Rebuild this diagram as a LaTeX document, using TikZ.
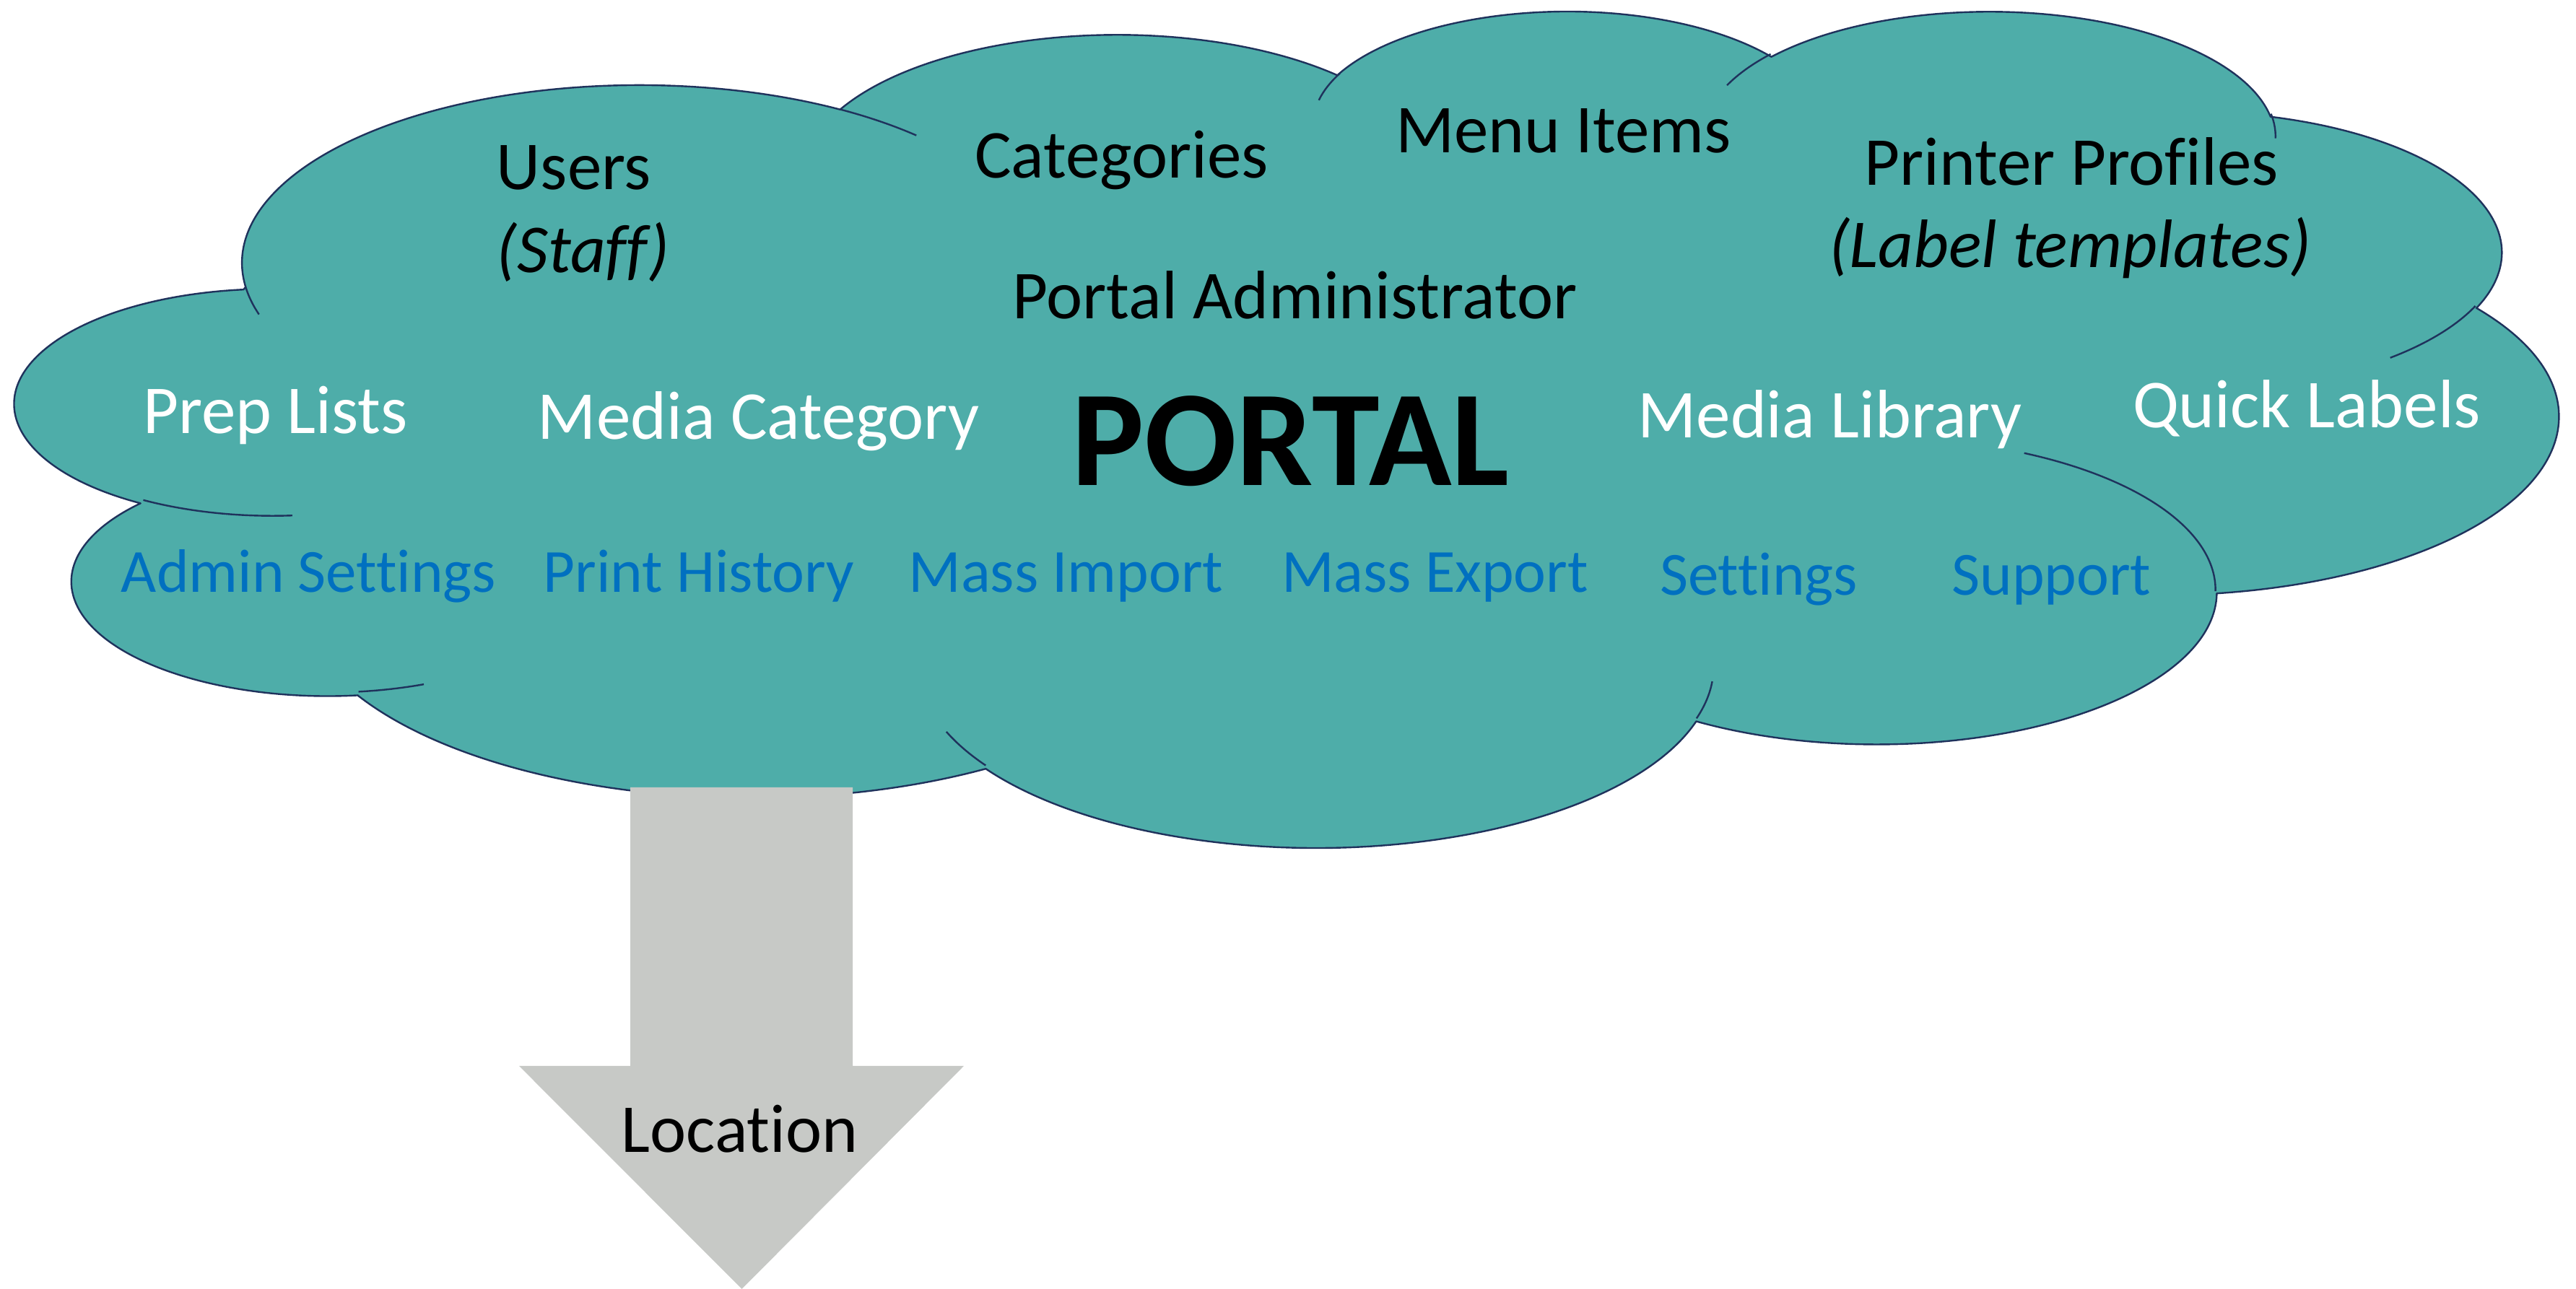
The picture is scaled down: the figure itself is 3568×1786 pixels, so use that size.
\documentclass[tikz,border=0pt]{standalone}
\usepackage{fontspec}
\setmainfont{Carlito}[Ligatures={NoCommon}]
\definecolor{cloudfill}{RGB}{78,173,169}
\definecolor{cloudline}{RGB}{31,50,92}
\definecolor{linkblue}{RGB}{0,112,192}
\definecolor{arrowgray}{RGB}{199,201,198}

% DrawingML arcTo (visual angles) -> TikZ elliptical arc (parametric angles)
\newcommand\defcloudarc[5]{%
  \pgfmathsetmacro\clk{#2/#3}%
  \pgfmathsetmacro\cla{#4}%
  \pgfmathsetmacro\clta{\cla+atan((\clk-1)*sin(\cla)*cos(\cla)/(cos(\cla)*cos(\cla)+\clk*sin(\cla)*sin(\cla)))}%
  \pgfmathsetmacro\clb{#4+#5}%
  \pgfmathsetmacro\cltb{\clb+atan((\clk-1)*sin(\clb)*cos(\clb)/(cos(\clb)*cos(\clb)+\clk*sin(\clb)*sin(\clb)))}%
  \pgfmathsetmacro\clrx{#2/432}%
  \pgfmathsetmacro\clry{#3/432}%
  \edef\cltemp{\noexpand\tikzset{#1/.style={start angle=\clta,end angle=\cltb,x radius=\clrx,y radius=\clry}}}%
  \cltemp}

\defcloudarc{clA}{6753}{9190}{-190.487483}{123.780533}
\defcloudarc{clB}{5333}{7267}{-144.102383}{89.945233}
\defcloudarc{clC}{4365}{5945}{-145.807917}{99.723017}
\defcloudarc{clD}{4857}{6595}{-130.986067}{117.241733}
\defcloudarc{clE}{5333}{7273}{-78.708883}{109.026917}
\defcloudarc{clF}{6775}{9220}{-46.26725}{130.269}
\defcloudarc{clG}{5785}{7867}{0.625017}{114.033333}
\defcloudarc{clH}{6752}{9215}{22.4516}{115.17255}
\defcloudarc{clI}{7720}{10543}{66.242633}{75.711017}
\defcloudarc{clJ}{4360}{5918}{-274.942083}{146.735567}
\defcloudarc{clK}{4345}{5945}{-246.8285}{152.51885}

\defcloudarc{dtA}{4345}{5945}{86.742}{26.4295}
\defcloudarc{dtB}{4360}{5918}{73.610467}{11.447467}
\defcloudarc{dtC}{6752}{9215}{137.62415}{14.0811}
\defcloudarc{dtD}{6752}{9215}{6.453267}{15.99835}
\defcloudarc{dtE}{5785}{7867}{-70.29235}{70.917367}
\defcloudarc{dtF}{5333}{7273}{30.318033}{27.7515}
\defcloudarc{dtG}{4857}{6595}{-13.744333}{14.8589}
\defcloudarc{dtH}{4857}{6595}{-149.18145}{18.195367}
\defcloudarc{dtI}{4365}{5945}{-163.494267}{17.68635}
\defcloudarc{dtJ}{6753}{9190}{-66.70695}{12.31935}
\defcloudarc{dtK}{6753}{9190}{157.65435}{11.858167}

\tikzset{
  txt/.style={inner sep=0pt, anchor=base, font=\fontsize{9.5}{11.5}\selectfont},
  darktxt/.style={txt, text=black},
  whitetxt/.style={txt, text=white},
  bluetxt/.style={inner sep=0pt, anchor=base, text=linkblue, font=\fontsize{8.5}{10.3}\selectfont},
  cloudedge/.style={draw=cloudline, line width=0.24pt, line join=round},
}

\begin{document}
\begin{tikzpicture}[x=0.1pt, y=-0.1pt]
\useasboundingbox (0,0) rectangle (3568,1786);

% cloud (PowerPoint preset geometry)
\begin{scope}[shift={(22.4,12.25)}, x=3.5207pt, y=-1.1586pt]
  \path[fill=cloudfill, cloudedge] (9.02778,33.26389)
    arc[clA] arc[clB] arc[clC] arc[clD] arc[clE] arc[clF]
    arc[clG] arc[clH] arc[clI] arc[clJ] arc[clK] -- cycle;
  \path[cloudedge]
    (10.86343,60.59491) arc[dtA]
    (16.03704,80.78472) arc[dtB]
    (38.14352,90.48611) arc[dtC]
    (66.72917,80.44213) arc[dtD]
    (79.00231,53.13426) arc[dtE]
    (96.75463,35.54167) arc[dtF]
    (88.71296,12.56019) arc[dtG]
    (67.31019,9.14815) arc[dtH]
    (51.25231,10.92593) arc[dtI]
    (32.40741,12.01852) arc[dtJ]
    (9.55324,36.54861) arc[dtK];
\end{scope}

% down arrow
\fill[arrowgray] (873,1091) -- (1181,1091) -- (1181,1477) -- (1335,1477)
  -- (1027.5,1786) -- (719,1477) -- (873,1477) -- cycle;

% texts
\node[darktxt] (users) at (795,263) {Users};
\node[darktxt, font=\fontsize{9.5}{11.5}\selectfont\itshape] (staff) at (807.5,378) {(Staff)};
\node[darktxt] (categories) at (1553.5,247) {Categories};
\node[darktxt] (menuitems) at (2165.5,212) {Menu Items};
\node[darktxt] (printer) at (2869,257) {Printer Profiles};
\node[darktxt, font=\fontsize{9.5}{11.5}\selectfont\itshape] (labeltpl) at (2867,371) {(Label templates)};
\node[darktxt] (portaladmin) at (1793.5,442) {Portal Administrator};
\node[darktxt, font=\fontsize{18.9}{22}\selectfont\bfseries] (portal) at (1787.5,673) {PORTAL};

\node[whitetxt] (preplists) at (381.5,601) {Prep Lists};
\node[whitetxt] (mediacat) at (1050.5,609) {Media Category};
\node[whitetxt] (medialib) at (2534.5,607) {Media Library};
\node[whitetxt] (quicklabels) at (3195,593) {Quick Labels};

\node[bluetxt] (adminset) at (427.5,821) {Admin Settings};
\node[bluetxt] (printhist) at (968,821) {Print History};
\node[bluetxt] (massimp) at (1476.5,821) {Mass Import};
\node[bluetxt] (massexp) at (1987.5,821) {Mass Export};
\node[bluetxt] (settings) at (2436,825) {Settings};
\node[bluetxt] (support) at (2841.5,825) {Support};

\node[darktxt] (location) at (1024.5,1597) {Location};
\end{tikzpicture}
\end{document}
